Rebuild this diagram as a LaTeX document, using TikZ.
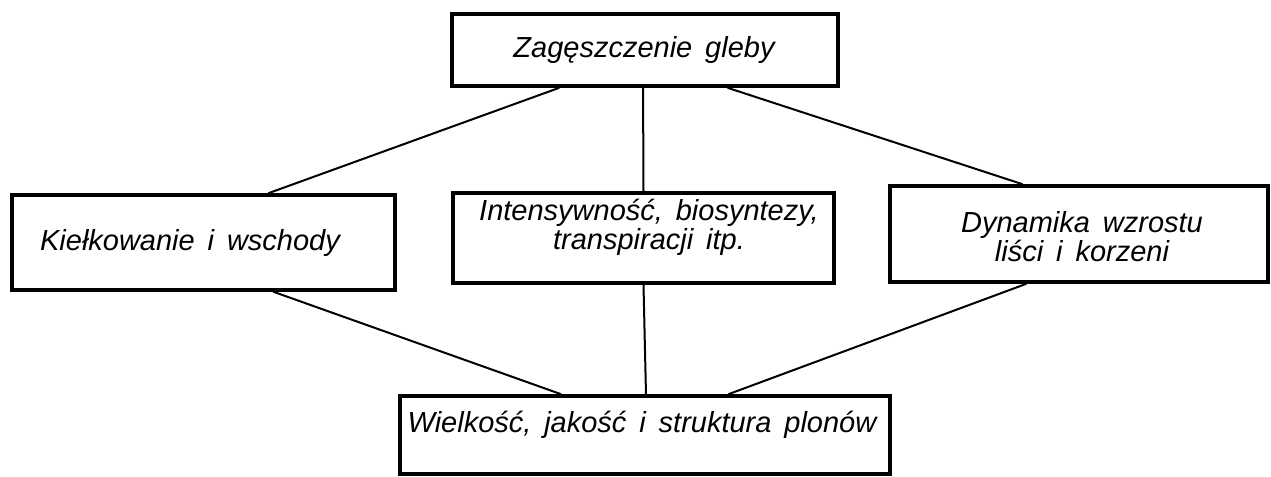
\documentclass[tikz,border=0pt]{standalone}
\usepackage{fontspec}
\setmainfont{Liberation Sans}[WordSpace=1.6]
\usetikzlibrary{positioning}
\usetikzlibrary{calc}
\tikzstyle{block}=[draw,line width=1.8pt,inner sep=0pt]
\tikzstyle{lettering}=[font=\fontsize{14.5}{14.5}\selectfont\itshape,align=center,inner sep=0pt]
\tikzstyle{link}=[line width=1pt]

\begin{document}
\begin{tikzpicture}[x=0.5pt,y=-0.5pt]
\useasboundingbox (0,0) rectangle (1271,477);

%boxes
\node[block,minimum width=193pt,minimum height=36pt] (gleba) at (645,50) {};
\node[block,minimum width=191.5pt,minimum height=47.5pt] (kielk) at (203.5,242.5) {};
\node[block,minimum width=190.5pt,minimum height=45pt] (inten) at (643.5,238) {};
\node[block,minimum width=189pt,minimum height=48pt] (dynam) at (1079,234) {};
\node[block,minimum width=245pt,minimum height=39pt] (plony) at (645,435) {};

%texts
\node[lettering] (glebaT) at (644,50) {Zagęszczenie gleby};
\node[lettering] (kielkT) at (190,243) {Kiełkowanie i wschody};
\node[lettering] (intenT) at (649,227) {Intensywność, biosyntezy,\\transpiracji itp.};
\node[lettering] (dynamT) at (1082,237) {Dynamika wzrostu\\liści i korzeni};
\node[lettering] (plonyT) at (642,425) {Wielkość, jakość i struktura plonów};

%links
\foreach \source/\sfrac/\dest/\dfrac in {gleba/0.28/kielk/0.668, gleba/0.495/inten/0.5, gleba/0.712/dynam/0.352,
    kielk/0.681/plony/0.33, inten/0.5/plony/0.502, dynam/0.362/plony/0.669}
    \draw[link] ($(\source.south west)!\sfrac!(\source.south east)$) -- ($(\dest.north west)!\dfrac!(\dest.north east)$);

\end{tikzpicture}
\end{document}
